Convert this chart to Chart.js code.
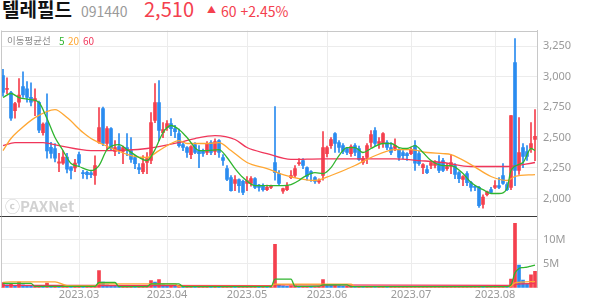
<!DOCTYPE html>
<html lang="ko">
<head>
<meta charset="utf-8">
<script src="https://cdn.jsdelivr.net/npm/chart.js@4.4.0/dist/chart.umd.min.js"></script>
<style>
  html, body { margin: 0; padding: 0; background: #fff; }
  body { width: 594px; height: 304px; position: relative; overflow: hidden; font-family: "Noto Sans CJK KR", "Noto Sans", sans-serif; }
  .t { position: absolute; white-space: nowrap; line-height: 1; }
  #priceBox { position: absolute; left: 0; top: 30px; width: 594px; height: 187px; }
  #volBox { position: absolute; left: 0; top: 216px; width: 594px; height: 88px; }
</style>
</head>
<body>
<div class="t" style="left:2px;top:-1px;font-size:19px;font-weight:700;color:#111">텔레필드</div>
<div class="t" style="left:81px;top:4px;font-size:14px;color:#9a9a9a">091440</div>
<div class="t" style="left:144px;top:-1px;font-size:20px;color:#f4404e">2,510</div>
<div class="t" style="left:207px;top:5px;font-size:9px;color:#f4404e">▲</div>
<div class="t" style="left:221px;top:4px;font-size:14px;color:#f4404e">60 +2.45%</div>

<div id="priceBox"><canvas id="price" width="594" height="187"></canvas></div>
<div id="volBox"><canvas id="vol" width="594" height="88"></canvas></div>

<div class="t" style="left:7px;top:36px;font-size:9.5px;color:#8a8a8a">이동평균선</div>
<div class="t" style="left:59px;top:36px;font-size:10px;color:#2fb52f">5</div>
<div class="t" style="left:68px;top:36px;font-size:10px;color:#ffa733">20</div>
<div class="t" style="left:83px;top:36px;font-size:10px;color:#f0365a">60</div>
<div class="t" style="left:5px;top:198px;font-size:15px;font-weight:700;color:#d2d2d2">ⓒPAXNet</div>

<script>
// 일봉 (시가/고가/저가/종가), 2023.02.02 ~ 2023.08.16
const opens = [3010,2895,2870,2720,2790,2920,2900,2830,2800,2790,
  2540,2620,2420,2410,2290,2290,2340,2260,2250,2360,
  2212,2215,2210,2188,2459,2738,2451,2574,2385,2426,
  2385,2418,2393,2336,2253,2220,2295,2311,2640,2788,
  2541,2582,2615,2574,2533,2442,2418,2360,2442,2393,
  2390,2377,2459,2385,2475,2336,2245,2171,2122,2155,
  2140,2122,2122,2163,2110,2105,2072,2090,2295,2204,
  2060,2072,2171,2188,2286,2311,2253,2220,2171,2135,
  2188,2368,2434,2533,2459,2434,2410,2368,2434,2410,
  2295,2336,2459,2558,2451,2451,2459,2418,2410,2401,
  2377,2368,2368,2434,2368,2253,2237,2270,2270,2295,
  2311,2245,2262,2270,2212,2155,2204,2130,2100,2090,
  1950,2030,2072,2090,2105,2188,2114,2090,3117,2229,
  2418,2385,2410,2485];
const highs = [3060,2990,2880,2790,2985,3040,2960,2950,2900,2800,
  2620,2860,2460,2450,2370,2390,2370,2260,2320,2380,
  2230,2225,2220,2350,2747,2750,2590,2582,2475,2533,
  2430,2533,2500,2352,2286,2352,2377,2706,2944,2969,
  2623,2640,2656,2600,2570,2459,2426,2434,2459,2434,
  2405,2467,2475,2490,2484,2360,2270,2188,2188,2160,
  2150,2180,2180,2170,2115,2120,2110,2110,2755,2229,
  2085,2130,2229,2270,2327,2327,2260,2229,2180,2160,
  2549,2430,2500,2541,2475,2450,2418,2440,2451,2430,
  2345,2451,2558,2582,2500,2541,2475,2459,2490,2410,
  2393,2377,2418,2475,2390,2286,2270,2295,2310,2352,
  2330,2286,2360,2286,2220,2188,2220,2140,2105,2100,
  2030,2060,2090,2147,2170,2286,2130,2681,3314,2664,
  2451,2434,2623,2730];
const lows = [2840,2860,2640,2660,2750,2830,2790,2760,2680,2540,
  2520,2330,2330,2300,2220,2280,2210,2160,2220,2260,
  2165,2160,2170,2115,2451,2434,2393,2393,2352,2368,
  2286,2352,2295,2245,2204,2204,2204,2286,2623,2475,
  2500,2558,2516,2500,2420,2393,2336,2327,2368,2253,
  2345,2360,2360,2360,2336,2270,2145,2060,2064,2048,
  2030,2064,2100,2080,2060,2060,2064,2080,2150,2105,
  2040,2064,2163,2170,2270,2245,2150,2140,2122,2122,
  2150,2340,2410,2377,2377,2368,2360,2345,2352,2311,
  2280,2286,2418,2434,2410,2418,2400,2360,2393,2311,
  2327,2311,2360,2229,2270,2204,2204,2245,2250,2212,
  2220,2229,2204,2163,2130,2105,2105,2060,2064,1925,
  1920,2020,2040,2080,2080,2114,2064,2072,2105,2196,
  2253,2311,2377,2310];
const closes = [2870,2905,2660,2780,2850,2850,2830,2790,2820,2560,
  2610,2390,2370,2330,2300,2340,2240,2230,2290,2290,
  2204,2195,2195,2270,2582,2451,2574,2410,2418,2393,
  2418,2400,2320,2286,2237,2286,2327,2623,2788,2558,
  2566,2615,2574,2549,2434,2418,2377,2426,2377,2368,
  2370,2451,2377,2467,2377,2311,2155,2064,2155,2105,
  2048,2147,2163,2090,2090,2072,2090,2100,2212,2122,
  2081,2105,2188,2245,2295,2270,2180,2204,2140,2147,
  2418,2418,2484,2451,2418,2385,2377,2426,2377,2320,
  2327,2434,2525,2451,2467,2533,2418,2377,2434,2336,
  2352,2352,2401,2290,2286,2278,2212,2295,2295,2229,
  2229,2262,2295,2196,2163,2180,2130,2090,2090,1941,
  2010,2056,2048,2105,2090,2122,2072,2681,2229,2377,
  2344,2344,2451,2510];

// 거래량 (백만주)
const volumes = [1.1,0.6,0.8,0.5,1.2,0.6,0.5,0.4,0.4,0.5,
  0.3,1.0,0.4,0.4,0.3,0.3,0.4,0.3,0.3,0.3,
  0.2,0.2,0.2,0.5,3.6,1.2,0.6,0.5,0.4,0.3,
  0.3,0.3,0.3,0.2,0.2,0.3,0.4,1.5,1.2,1.7,
  0.6,0.4,0.4,0.3,0.4,0.2,0.2,0.3,0.2,0.2,
  0.2,0.3,0.2,0.3,0.2,0.2,0.3,0.3,0.2,0.2,
  0.2,0.2,0.2,0.2,0.1,0.2,0.1,0.2,9.0,0.6,
  0.4,0.3,0.4,0.4,0.3,0.3,0.3,0.2,0.2,0.3,
  1.7,0.6,0.5,0.5,0.4,0.3,0.3,0.4,0.3,0.3,
  0.2,0.3,0.3,0.2,0.2,0.3,0.2,0.2,0.2,0.2,
  0.2,0.2,0.2,0.2,0.2,0.2,0.2,0.2,0.2,0.2,
  0.2,0.2,0.2,0.2,0.2,0.2,0.2,0.2,0.2,0.3,
  0.2,0.2,0.2,0.2,0.2,0.3,0.2,1.8,13.4,4.7,
  1.6,0.8,2.7,3.4];

// 이동평균선
const ma5Idx = [0,2,4,7,9,11,13,15,17,19,22,24,26,29,31,34,36,38,40,42,44,46,49,51,54,56,58,60,63,66,70,72,74,75,78,80,82,84,86,88,90,92,95,97,99,101,103,105,107,110,112,115,117,120,122,124,126,127,130,132,133];
const ma5Val = [2829,2862,2829,2812,2788,2656,2500,2393,2286,2262,2229,2270,2401,2442,2401,2336,2311,2401,2541,2599,2566,2500,2393,2393,2401,2336,2245,2171,2105,2105,2105,2114,2147,2171,2212,2204,2253,2352,2418,2418,2377,2410,2451,2451,2418,2410,2434,2377,2311,2270,2270,2204,2130,2072,2040,2040,2081,2229,2295,2410,2393];
const ma20Idx = [0,2,4,8,13,16,20,22,24,32,36,39,42,44,46,51,54,57,61,66,70,74,78,82,88,92,98,102,106,110,112,117,122,126,128,133];
const ma20Val = [2393,2492,2558,2664,2730,2664,2541,2492,2459,2352,2336,2393,2451,2475,2451,2451,2459,2393,2295,2245,2196,2163,2147,2188,2270,2336,2401,2401,2377,2368,2360,2278,2180,2147,2180,2196];
const ma60Idx = [0,3,10,14,22,26,36,44,48,53,58,61,66,72,80,98,104,110,117,126,133];
const ma60Val = [2434,2459,2459,2434,2393,2393,2410,2459,2492,2516,2484,2418,2368,2320,2325,2325,2311,2295,2262,2262,2295];

const vma5Idx = [0,7,8,23,24,28,29,36,37,44,45,67,68,72,73,79,80,86,87,126,127,128,129,130,131,132,133];
const vma5Val = [0.9,0.9,0.3,0.3,1.1,1.1,0.25,0.25,0.8,0.8,0.25,0.25,1.8,1.8,0.3,0.35,0.6,0.6,0.25,0.25,0.6,3.1,4.0,4.2,4.3,4.5,4.7];
const vma20Idx = [0,2,13,16,23,24,43,44,67,68,87,88,126,127,128,133];
const vma20Val = [1.1,1.25,1.25,0.45,0.4,0.8,0.8,0.3,0.3,0.75,0.75,0.25,0.25,0.35,1.0,1.3];
const vma60Idx = [0,67,68,127,128,133];
const vma60Val = [0.5,0.45,0.6,0.5,0.75,0.9];

const monthIdx = [19, 41, 61, 81, 102, 123];
const monthLabels = ['2023.03', '2023.04', '2023.05', '2023.06', '2023.07', '2023.08'];
const priceTicks = [2000, 2250, 2500, 2750, 3000, 3250];
const volTicks = [5, 10];

const RED = '#f4404e', BLUE = '#2a8cf0';
const GREEN = '#2fb52f', ORANGE = '#ffa733', PINK = '#f0365a';
const GRID = '#ececec', TICK = '#9a9a9a';
const n = closes.length;
const idx = closes.map((_, i) => i);
const candleColor = idx.map(i => closes[i] >= opens[i] ? RED : BLUE);
const volColor = idx.map(i => (i === 0 || volumes[i] >= volumes[i - 1]) ? RED : BLUE);
const pts = (xs, ys) => xs.map((x, k) => ({ x, y: ys[k] }));

const frame = {
  id: 'frame',
  afterDraw(chart, args, o) {
    const { ctx, chartArea: a } = chart;
    ctx.save();
    ctx.lineWidth = 1;
    ctx.strokeStyle = '#c8c8c8';
    ctx.beginPath();
    const lx = Math.round(a.left) + 0.5;
    ctx.moveTo(lx, a.top); ctx.lineTo(lx, a.bottom);
    if (o.top) {
      const ty = Math.round(a.top) + 0.5;
      ctx.moveTo(a.left, ty); ctx.lineTo(a.right, ty);
    }
    ctx.stroke();
    if (o.bottomDark) {
      const by = Math.round(a.bottom) - 0.5;
      ctx.strokeStyle = '#3a3a3a';
      ctx.beginPath();
      ctx.moveTo(0, by); ctx.lineTo(a.right, by);
      ctx.stroke();
    }
    ctx.restore();
  }
};

function xAxis(showLabels) {
  return {
    type: 'linear', min: -0.5, max: n - 0.5, offset: false,
    afterBuildTicks: s => { s.ticks = monthIdx.map(v => ({ value: v })); },
    grid: { color: GRID, drawTicks: false, offset: false },
    border: { display: false },
    ticks: {
      display: showLabels, autoSkip: false, maxRotation: 0, padding: 0, color: TICK,
      font: { family: 'Noto Sans', size: 11 },
      callback: v => monthLabels[monthIdx.indexOf(v)]
    }
  };
}

function yAxis(min, max, tickVals, fmt) {
  return {
    position: 'right', min, max,
    afterBuildTicks: s => { s.ticks = tickVals.map(v => ({ value: v })); },
    afterFit: s => { s.width = 57; },
    grid: { color: GRID, drawTicks: true, tickLength: 6, tickColor: 'rgba(0,0,0,0)' },
    border: { display: true, color: '#c8c8c8' },
    ticks: { padding: 0, color: TICK, font: { family: 'Noto Sans', size: 11, lineHeight: '1px' }, callback: fmt }
  };
}

const line = (label, data, color, order) => ({
  type: 'line', label, data, borderColor: color, borderWidth: 1.3,
  pointRadius: 0, cubicInterpolationMode: 'monotone', order
});

new Chart(document.getElementById('price'), {
  type: 'bar',
  data: {
    datasets: [
      line('MA5', pts(ma5Idx, ma5Val), GREEN, 0),
      line('MA20', pts(ma20Idx, ma20Val), ORANGE, 0),
      line('MA60', pts(ma60Idx, ma60Val), PINK, 0),
      { label: 'body', data: idx.map(i => ({ x: i, y: [opens[i], closes[i]] })),
        backgroundColor: candleColor, barThickness: 3, minBarLength: 1, grouped: false, order: 1 },
      { label: 'wick', data: idx.map(i => ({ x: i, y: [lows[i], highs[i]] })),
        backgroundColor: candleColor, barThickness: 1, grouped: false, order: 2 }
    ]
  },
  options: {
    responsive: false, animation: false, devicePixelRatio: 1,
    layout: { padding: { left: 1, top: 0, right: 0, bottom: 0 } },
    plugins: { legend: { display: false }, tooltip: { enabled: false }, frame: { top: true, bottomDark: true } },
    scales: {
      x: xAxis(false),
      y: yAxis(1851, 3380, priceTicks, v => v.toLocaleString('en-US'))
    }
  },
  plugins: [frame]
});

new Chart(document.getElementById('vol'), {
  type: 'bar',
  data: {
    datasets: [
      line('VMA5', pts(vma5Idx, vma5Val), GREEN, 0),
      line('VMA20', pts(vma20Idx, vma20Val), ORANGE, 0),
      line('VMA60', pts(vma60Idx, vma60Val), PINK, 0),
      { label: 'volume', data: idx.map(i => ({ x: i, y: volumes[i] })),
        backgroundColor: volColor, barThickness: 3, order: 1 }
    ]
  },
  options: {
    responsive: false, animation: false, devicePixelRatio: 1,
    layout: { padding: { left: 1, top: 0, right: 0, bottom: 3 } },
    plugins: { legend: { display: false }, tooltip: { enabled: false }, frame: { top: false, bottomDark: false } },
    scales: {
      x: xAxis(true),
      y: yAxis(0, 14.8, volTicks, v => v + 'M')
    }
  },
  plugins: [frame]
});
</script>
</body>
</html>
